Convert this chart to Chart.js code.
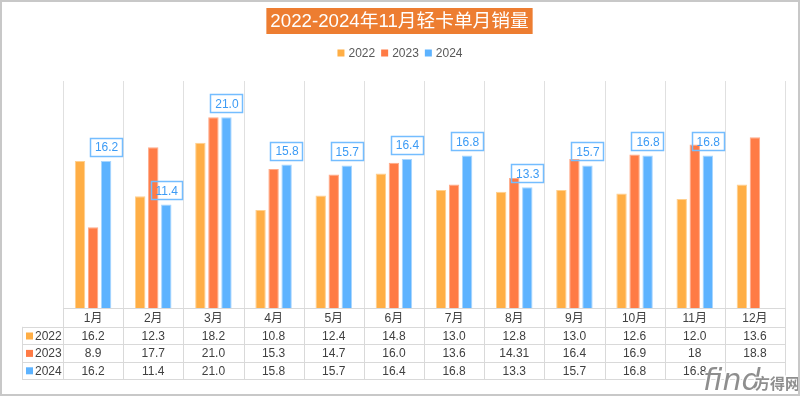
<!DOCTYPE html>
<html><head><meta charset="utf-8">
<script src="https://cdn.jsdelivr.net/npm/chart.js@4/dist/chart.umd.min.js"></script>
<style>html,body{margin:0;padding:0;background:#fff;}#wrap{width:800px;height:396px;position:relative}canvas{display:block}</style>
</head><body><div id="wrap"><canvas id="c" width="800" height="396"></canvas></div>
<script>
const titleText = '2022-2024年11月轻卡单月销量';
const months = ['1月','2月','3月','4月','5月','6月','7月','8月','9月','10月','11月','12月'];
const seriesNames = ['2022','2023','2024'];
const sales2022 = ['16.2','12.3','18.2','10.8','12.4','14.8','13.0','12.8','13.0','12.6','12.0','13.6'];
const sales2023 = ['8.9','17.7','21.0','15.3','14.7','16.0','13.6','14.31','16.4','16.9','18','18.8'];
const sales2024 = ['16.2','11.4','21.0','15.8','15.7','16.4','16.8','13.3','15.7','16.8','16.8',''];
const seriesColors = ['#FFAE45','#FF7B45','#5DB3FF'];
const seriesBorders = ['#FFD08F','#FFAA88','#A8D6FF'];
const yMax = 25;

const FONT = '"Liberation Sans", "Noto Sans CJK SC", Arial, sans-serif';
const allSeries = [sales2022, sales2023, sales2024];
const toNum = v => v === '' ? null : Number(v);

const decor = {
  id: 'decor',
  beforeDraw(chart) {
    const ctx = chart.ctx;
    ctx.save();
    ctx.fillStyle = '#fff';
    ctx.fillRect(0, 0, chart.width, chart.height);
    // title
    ctx.font = '18.7px ' + FONT;
    const tw = ctx.measureText(titleText).width;
    const cx = 399.5, cy = 21.3;
    ctx.fillStyle = '#ED7D31';
    ctx.fillRect(cx - tw / 2 - 4, 8, tw + 8, 26);
    ctx.fillStyle = '#fff';
    ctx.textAlign = 'center';
    ctx.textBaseline = 'middle';
    ctx.fillText(titleText, cx, cy + 1);
    // legend
    ctx.font = '12px ' + FONT;
    const box = 7, gap = 4, itemGap = 6;
    const widths = chart.data.datasets.map(d => box + gap + ctx.measureText(d.label).width);
    const total = widths.reduce((a, b) => a + b, 0) + itemGap * (widths.length - 1);
    let x = 400 - total / 2;
    const ly = 53;
    ctx.textAlign = 'left';
    chart.data.datasets.forEach((d, i) => {
      ctx.fillStyle = d.backgroundColor;
      ctx.fillRect(x, ly - box / 2, box, box);
      ctx.fillStyle = '#595959';
      ctx.fillText(d.label, x + box + gap, ly + 1);
      x += widths[i] + itemGap;
    });
    ctx.restore();
  },
  beforeDatasetsDraw(chart) {
    const ctx = chart.ctx, xs = chart.scales.x, area = chart.chartArea;
    const step = xs.getPixelForValue(1) - xs.getPixelForValue(0);
    ctx.save();
    ctx.strokeStyle = '#e0e0e0';
    ctx.lineWidth = 1;
    for (let i = 0; i <= months.length; i++) {
      const px = Math.round(xs.getPixelForValue(0) - step / 2 + i * step) + 0.5;
      ctx.beginPath();
      ctx.moveTo(px, area.top);
      ctx.lineTo(px, area.bottom);
      ctx.stroke();
    }
    ctx.restore();
  },
  afterDatasetsDraw(chart) {
    const ctx = chart.ctx;
    const meta = chart.getDatasetMeta(2);
    ctx.save();
    ctx.font = '12px ' + FONT;
    ctx.textAlign = 'center';
    ctx.textBaseline = 'middle';
    meta.data.forEach((el, i) => {
      const txt = sales2024[i];
      if (txt === '') return;
      const w = ctx.measureText(txt).width + 9;
      const h = 18;
      const bx = el.x - w / 2, by = el.y - 5 - h;
      ctx.strokeStyle = '#74BDFF';
      ctx.lineWidth = 1.5;
      ctx.strokeRect(Math.round(bx) + 0.5, Math.round(by) + 0.5, Math.round(w), h);
      ctx.fillStyle = '#3C9BF5';
      ctx.fillText(txt, el.x + 0.5, by + h / 2 + 1);
    });
    ctx.restore();
  },
  afterDraw(chart) {
    const ctx = chart.ctx, xs = chart.scales.x, area = chart.chartArea;
    const step = xs.getPixelForValue(1) - xs.getPixelForValue(0);
    const left = xs.getPixelForValue(0) - step / 2;
    const right = left + step * months.length;
    const top = area.bottom;
    const headH = 18.8, rowH = 17.4;
    const rowsY = [top, top + headH, top + headH + rowH, top + headH + 2 * rowH, top + headH + 3 * rowH];
    const labelLeft = 22;
    ctx.save();
    ctx.strokeStyle = '#d9d9d9';
    ctx.lineWidth = 1;
    const hl = (x1, x2, y) => { const yy = Math.round(y) + 0.5; ctx.beginPath(); ctx.moveTo(x1, yy); ctx.lineTo(x2, yy); ctx.stroke(); };
    const vl = (x, y1, y2) => { const xx = Math.round(x) + 0.5; ctx.beginPath(); ctx.moveTo(xx, y1); ctx.lineTo(xx, y2); ctx.stroke(); };
    hl(left, right + 1, rowsY[0]);
    for (let r = 1; r < rowsY.length; r++) hl(labelLeft, right + 1, rowsY[r]);
    vl(labelLeft, rowsY[1], rowsY[4]);
    for (let i = 0; i <= months.length; i++) vl(left + i * step, top, rowsY[4]);
    ctx.font = '12px ' + FONT;
    ctx.textBaseline = 'middle';
    ctx.textAlign = 'center';
    ctx.fillStyle = '#404040';
    months.forEach((m, i) => {
      ctx.fillText(m, xs.getPixelForValue(i), (rowsY[0] + rowsY[1]) / 2 + 1);
    });
    allSeries.forEach((arr, r) => {
      const cy = (rowsY[r + 1] + rowsY[r + 2]) / 2 + 1;
      ctx.textAlign = 'center';
      ctx.fillStyle = '#404040';
      arr.forEach((v, i) => { if (v !== '') ctx.fillText(v, xs.getPixelForValue(i), cy); });
      ctx.fillStyle = seriesColors[r];
      ctx.fillRect(26, cy - 4, 7, 7);
      ctx.fillStyle = '#404040';
      ctx.textAlign = 'left';
      ctx.fillText(seriesNames[r], 35, cy);
    });
    // watermark
    ctx.textAlign = 'left';
    ctx.textBaseline = 'alphabetic';
    ctx.font = 'italic 30px "DejaVu Sans", sans-serif';
    ctx.lineWidth = 3;
    ctx.strokeStyle = 'rgba(255,255,255,0.9)';
    ctx.strokeText('find', 703, 390);
    ctx.fillStyle = '#8e8e8e';
    ctx.fillText('find', 703, 390);
    ctx.font = 'bold 15px "Noto Sans CJK SC", sans-serif';
    ctx.strokeText('方得网', 755, 389);
    ctx.fillText('方得网', 755, 389);
    // outer frame
    ctx.strokeStyle = '#c8c8c8';
    ctx.lineWidth = 2;
    ctx.strokeRect(1, 1, chart.width - 2, chart.height - 2);
    ctx.restore();
  }
};

new Chart(document.getElementById('c'), {
  type: 'bar',
  data: {
    labels: months,
    datasets: seriesNames.map((name, i) => ({
      label: name,
      data: allSeries[i].map(toNum),
      backgroundColor: seriesColors[i],
      borderColor: seriesBorders[i],
      borderWidth: 1,
      categoryPercentage: 0.65,
      barPercentage: 0.8
    }))
  },
  options: {
    responsive: false,
    animation: false,
    devicePixelRatio: 1,
    layout: { padding: { left: 63, right: 15, top: 81, bottom: 88 } },
    plugins: { legend: { display: false }, title: { display: false }, tooltip: { enabled: false } },
    scales: {
      x: { display: false },
      y: { display: false, min: 0, max: yMax }
    }
  },
  plugins: [decor]
});
</script>
</body></html>
